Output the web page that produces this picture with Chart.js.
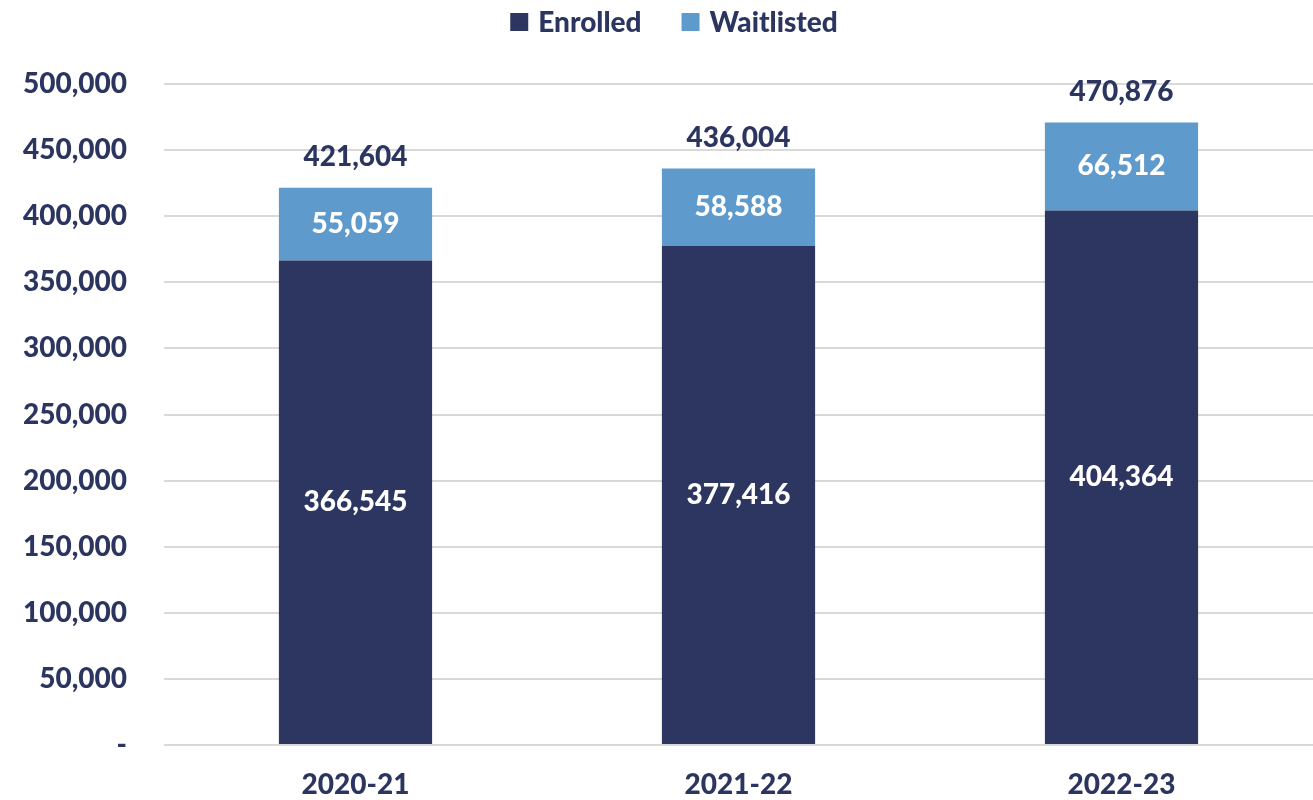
<!DOCTYPE html>
<html>
<head>
<meta charset="utf-8">
<script src="https://cdn.jsdelivr.net/npm/chart.js@4.4.0/dist/chart.umd.min.js"></script>
<style>
    html, body { margin:0; padding:0; background:#ffffff; }
    #wrap { width:1313px; height:800px; position:relative; }
</style>
</head>
<body>
<div id="wrap"><canvas id="enrollChart"></canvas></div>
<script>
let years = ["2020-21", "2021-22", "2022-23"];
let enrolled = [366545, 377416, 404364];
let waitlisted = [55059, 58588, 66512];

let navy = "#2C3660";
let lightBlue = "#5E9ACC";
let textColor = "#2B3560";
let fontFamily = "Lato, 'Open Sans', sans-serif";
let weight = "900";

function fmt(v){
    return v.toLocaleString("en-US");
}

// legend on top, drawn by hand so the spacing can match
let legendPlugin = {
    id:"topLegend",
    afterDraw:function(chart){
        let ctx = chart.ctx;
        ctx.save();
        ctx.font = weight + " 28px " + fontFamily;
        ctx.textBaseline = "middle";
        ctx.textAlign = "left";

        let items = chart.data.datasets;
        let box = 18, gap = 10, between = 40;
        let total = 0;
        items.forEach(function(ds, i){
            total += box + gap + ctx.measureText(ds.label).width;
            if(i < items.length - 1) total += between;
        });

        let x = 674 - total / 2;
        let y = 22;
        items.forEach(function(ds){
            ctx.fillStyle = ds.backgroundColor;
            ctx.fillRect(x, y - box / 2, box, box);
            x += box + gap;
            ctx.fillStyle = textColor;
            ctx.fillText(ds.label, x, y + 1);
            x += ctx.measureText(ds.label).width + between;
        });
        ctx.restore();
    }
};

// numbers inside bars and totals on top
let labelPlugin = {
    id:"barLabels",
    afterDatasetsDraw:function(chart){
        let ctx = chart.ctx;
        ctx.save();
        ctx.font = weight + " 28px " + fontFamily;
        ctx.textAlign = "center";
        ctx.textBaseline = "middle";

        chart.data.datasets.forEach(function(ds, i){
            let meta = chart.getDatasetMeta(i);
            meta.data.forEach(function(bar, j){
                ctx.fillStyle = "#ffffff";
                ctx.fillText(fmt(ds.data[j]), bar.x, (bar.y + bar.base) / 2);
            });
        });

        let topMeta = chart.getDatasetMeta(chart.data.datasets.length - 1);
        topMeta.data.forEach(function(bar, j){
            let total = enrolled[j] + waitlisted[j];
            ctx.fillStyle = textColor;
            ctx.fillText(fmt(total), bar.x, bar.y - 31);
        });
        ctx.restore();
    }
};

new Chart(document.getElementById("enrollChart"), {
    type:"bar",
    data:{
        labels:years,
        datasets:[
            { label:"Enrolled", data:enrolled, backgroundColor:navy, barPercentage:0.8, categoryPercentage:0.5 },
            { label:"Waitlisted", data:waitlisted, backgroundColor:lightBlue, barPercentage:0.8, categoryPercentage:0.5 }
        ]
    },
    options:{
        responsive:true,
        maintainAspectRatio:false,
        animation:false,
        layout:{ padding:{ top:84, right:0, bottom:0, left:0 } },
        plugins:{
            legend:{ display:false },
            tooltip:{ enabled:false }
        },
        scales:{
            x:{
                stacked:true,
                grid:{ display:false },
                border:{ display:false },
                ticks:{ color:textColor, font:{ family:fontFamily, size:28, weight:weight }, padding:15 },
                afterFit:function(scale){ scale.height = 55; }
            },
            y:{
                stacked:true,
                min:0,
                max:500000,
                grid:{ color:"#D9D9D9", lineWidth:2, drawTicks:false },
                border:{ display:false },
                ticks:{
                    stepSize:50000,
                    color:textColor,
                    font:{ family:fontFamily, size:28, weight:weight },
                    padding:37,
                    callback:function(v){ return v === 0 ? "-" : fmt(v); }
                },
                afterFit:function(scale){ scale.width = 164; }
            }
        }
    },
    plugins:[labelPlugin, legendPlugin]
});
</script>
</body>
</html>
